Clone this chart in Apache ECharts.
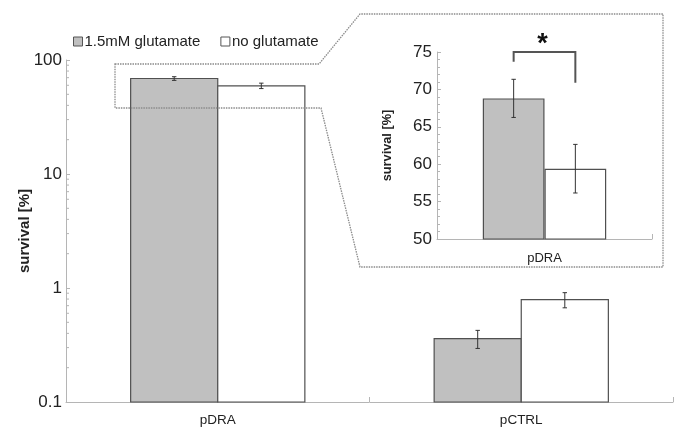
<!DOCTYPE html>
<html><head><meta charset="utf-8">
<script src="https://cdn.jsdelivr.net/npm/echarts@6/dist/echarts.min.js"></script>
<style>html,body{margin:0;padding:0;background:#fff}#c{width:676px;height:429px}</style>
</head><body><div id="c"></div>
<script>
var categories = ['pDRA', 'pCTRL'];
var seriesNames = ['1.5mM glutamate', 'no glutamate'];
var gluValues = [68.8, 0.36];
var gluErrors = [2.55, 0.065];
var noGluValues = [59.4, 0.79];
var noGluErrors = [3.25, 0.12];
var mainTicks = [0.1, 1, 10, 100];
var insetCategories = ['pDRA'];
var insetTicks = [50, 55, 60, 65, 70, 75];
var bracketLevels = [75, 73.7, 70.9]; // top, left leg end, right leg end

var FONT = 'Liberation Sans, Arial, sans-serif';
var BAR_FRAC = 0.287;
var GRAY = '#c0c0c0', BORDER = '#505050';
var chart = echarts.init(document.getElementById('c'), null, {renderer: 'canvas'});

function barRender(seriesIdx, vals, fill) {
  return function (params, api) {
    var i = api.value(0);
    var v = vals[i];
    var band = api.size([1, 1], [i, v])[0];
    var bw = band * BAR_FRAC;
    var top = api.coord([i, v]);
    var base = api.coord([i, mainTicks[0]]);
    var xl = top[0] + (seriesIdx === 0 ? -bw : 0);
    return {type: 'rect', shape: {x: xl, y: top[1], width: bw, height: base[1] - top[1]},
      style: {fill: fill, stroke: BORDER, lineWidth: 1.2}};
  };
}

function errRender(seriesIdx, vals, errs) {
  return function (params, api) {
    var i = api.value(0);
    var v = vals[i], e = errs[i];
    var band = api.size([1, 1], [i, v])[0];
    var bw = band * BAR_FRAC;
    var c = api.coord([i, v]);
    var x = c[0] + (seriesIdx === 0 ? -bw / 2 : bw / 2);
    var yt = api.coord([i, v + e])[1];
    var yb = api.coord([i, v - e])[1];
    var cap = 2.2;
    var st = {stroke: '#333', lineWidth: 1};
    return {type: 'group', children: [
      {type: 'line', shape: {x1: x, y1: yt, x2: x, y2: yb}, style: st},
      {type: 'line', shape: {x1: x - cap, y1: yt, x2: x + cap, y2: yt}, style: st},
      {type: 'line', shape: {x1: x - cap, y1: yb, x2: x + cap, y2: yb}, style: st}
    ]};
  };
}

var axisLineStyle = {color: '#b5b5b5', width: 1};
var option = {
  animation: false,
  textStyle: {fontFamily: FONT},
  legend: {
    data: [
      {name: seriesNames[0], itemStyle: {color: GRAY, borderColor: '#555', borderWidth: 1}},
      {name: seriesNames[1], itemStyle: {color: '#fff', borderColor: '#555', borderWidth: 1}}
    ],
    left: 68, top: 29, itemWidth: 9, itemHeight: 9, itemGap: 20,
    icon: 'rect',
    textStyle: {fontSize: 15, color: '#222', fontFamily: FONT, padding: [0, 0, 0, -3]}
  },
  grid: [
    {left: 66, right: 3, top: 60, bottom: 27},
    {left: 437, top: 52, width: 215, height: 187}
  ],
  xAxis: [
    {type: 'category', gridIndex: 0, data: categories,
      axisLine: {lineStyle: axisLineStyle},
      axisTick: {show: true, inside: true, length: 5, lineStyle: axisLineStyle},
      axisLabel: {fontSize: 13.5, color: '#222', margin: 11, fontFamily: FONT}},
    {type: 'category', gridIndex: 1, data: insetCategories,
      axisLine: {lineStyle: axisLineStyle},
      axisTick: {show: true, inside: true, length: 5, lineStyle: axisLineStyle},
      axisLabel: {fontSize: 13, color: '#222', margin: 13, fontFamily: FONT}}
  ],
  yAxis: [
    {type: 'log', gridIndex: 0, logBase: 10, min: 0.1, max: 100,
      name: 'survival [%]', nameLocation: 'middle', nameGap: 34, nameMoveOverlap: false,
      nameTextStyle: {fontSize: 15, fontWeight: 'bold', color: '#222', fontFamily: FONT},
      axisLine: {show: true, lineStyle: axisLineStyle},
      axisTick: {show: true, inside: true, length: 4, lineStyle: axisLineStyle},
      splitLine: {show: false},
      axisLabel: {fontSize: 17, color: '#222', margin: 4, fontFamily: FONT,
        formatter: function (v) { var r = +(+v).toPrecision(3); return mainTicks.indexOf(r) >= 0 ? String(r) : ''; }}},
    {type: 'value', gridIndex: 1, min: insetTicks[0], max: insetTicks[insetTicks.length - 1], interval: 5,
      name: 'survival [%]', nameLocation: 'middle', nameGap: 43, nameMoveOverlap: false,
      nameTextStyle: {fontSize: 12.75, fontWeight: 'bold', color: '#222', fontFamily: FONT},
      axisLine: {show: true, lineStyle: axisLineStyle},
      axisTick: {show: true, inside: true, length: 4, lineStyle: axisLineStyle},
      minorTick: {show: true, splitNumber: 5, length: 3, lineStyle: axisLineStyle},
      splitLine: {show: false},
      axisLabel: {fontSize: 17, color: '#222', margin: 5, fontFamily: FONT}}
  ],
  series: [
    {name: seriesNames[0], type: 'custom', xAxisIndex: 0, yAxisIndex: 0, data: [[0], [1]],
      itemStyle: {color: GRAY}, renderItem: barRender(0, gluValues, GRAY)},
    {name: seriesNames[1], type: 'custom', xAxisIndex: 0, yAxisIndex: 0, data: [[0], [1]],
      itemStyle: {color: '#fff'}, renderItem: barRender(1, noGluValues, '#ffffff')},
    {name: seriesNames[0], type: 'bar', xAxisIndex: 1, yAxisIndex: 1, data: [gluValues[0]],
      barWidth: (BAR_FRAC * 100) + '%', barGap: '0%',
      itemStyle: {color: GRAY, borderColor: BORDER, borderWidth: 1.2}},
    {name: seriesNames[1], type: 'bar', xAxisIndex: 1, yAxisIndex: 1, data: [noGluValues[0]],
      barWidth: (BAR_FRAC * 100) + '%', barGap: '0%',
      itemStyle: {color: '#ffffff', borderColor: BORDER, borderWidth: 1.2}},
    {type: 'custom', xAxisIndex: 0, yAxisIndex: 0, data: [[0], [1]], z: 5, silent: true,
      renderItem: errRender(0, gluValues, gluErrors)},
    {type: 'custom', xAxisIndex: 0, yAxisIndex: 0, data: [[0], [1]], z: 5, silent: true,
      renderItem: errRender(1, noGluValues, noGluErrors)},
    {type: 'custom', xAxisIndex: 1, yAxisIndex: 1, data: [[0]], z: 5, silent: true,
      renderItem: errRender(0, [gluValues[0]], [gluErrors[0]])},
    {type: 'custom', xAxisIndex: 1, yAxisIndex: 1, data: [[0]], z: 5, silent: true,
      renderItem: errRender(1, [noGluValues[0]], [noGluErrors[0]])},
    {type: 'custom', xAxisIndex: 1, yAxisIndex: 1, data: [[0]], z: 6, silent: true, clip: false,
      renderItem: function (params, api) {
        var band = api.size([1, 1], [0, 60])[0];
        var bw = band * BAR_FRAC;
        var c = api.coord([0, bracketLevels[0]]);
        var xl = c[0] - bw / 2, xr = c[0] + bw / 2;
        var yTop = c[1];
        var yL = api.coord([0, bracketLevels[1]])[1];
        var yR = api.coord([0, bracketLevels[2]])[1];
        return {type: 'group', children: [
          {type: 'polyline', shape: {points: [[xl, yL], [xl, yTop], [xr, yTop], [xr, yR]]},
            style: {stroke: '#555', lineWidth: 2, fill: null}},
          {type: 'text', x: c[0] - 2, y: yTop - 7,
            style: {text: '*', fontSize: 27, fontWeight: 'bold', fill: '#111', align: 'center', verticalAlign: 'middle', fontFamily: FONT}}
        ]};
      }}
  ],
  graphic: [
    {type: 'polygon', z: 10, silent: true,
      shape: {points: [[115, 64], [319, 64], [360, 14], [663, 14], [663, 267], [360, 267], [321, 108], [115, 108]]},
      style: {fill: null, stroke: '#8a8a8a', lineWidth: 1.3, lineDash: [1.5, 1]}}
  ]
};
chart.setOption(option);

// log minor ticks on main axis
var ticks = [];
for (var d = 0; d < mainTicks.length - 1; d++) {
  for (var k = 2; k <= 9; k++) {
    var p = chart.convertToPixel({xAxisIndex: 0, yAxisIndex: 0}, [0, mainTicks[d] * k]);
    ticks.push({type: 'line', silent: true, z: 9,
      shape: {x1: 66, y1: p[1], x2: 69, y2: p[1]},
      style: {stroke: '#b5b5b5', lineWidth: 1}});
  }
}
chart.setOption({graphic: option.graphic.concat(ticks)});
</script></body></html>
